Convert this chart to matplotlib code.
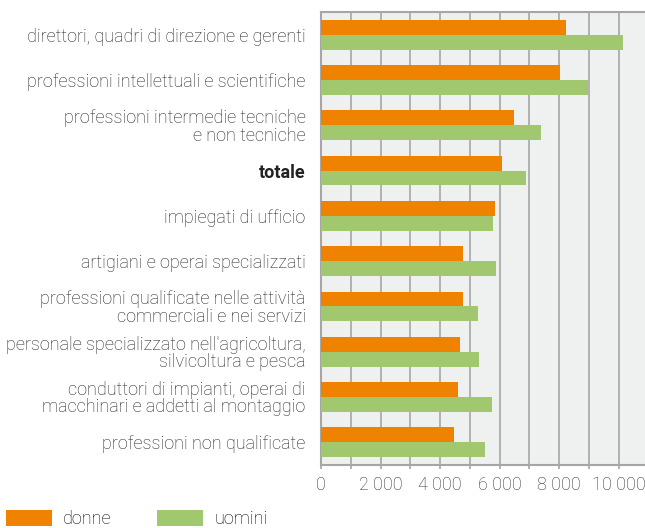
import matplotlib.pyplot as plt
from matplotlib.ticker import FuncFormatter, MultipleLocator
import numpy as np

plt.rcParams['font.family'] = ['Roboto', 'DejaVu Sans']

categorie = ['direttori, quadri di direzione e gerenti',
             'professioni intellettuali e scientifiche',
             'professioni intermedie tecniche\ne non tecniche',
             'totale',
             'impiegati di ufficio',
             'artigiani e operai specializzati',
             'professioni qualificate nelle attività\ncommerciali e nei servizi',
             "personale specializzato nell'agricoltura,\nsilvicoltura e pesca",
             'conduttori di impianti, operai di\nmacchinari e addetti al montaggio',
             'professioni non qualificate']
donne = [8220, 8020, 6470, 6080, 5845, 4770, 4770, 4670, 4600, 4470]
uomini = [10140, 8970, 7390, 6890, 5780, 5880, 5275, 5310, 5745, 5510]

col_donne = '#ef8200'
col_uomini = '#a2c86f'
grigio = '#a6a6a6'
fs = 13

fig = plt.figure(figsize=(6.45, 5.28), dpi=100)
ax = fig.add_axes([321/645, 1-465/528, 1-321/645, (465-12)/528])
ax.set_facecolor('#eff0f0')

y = np.arange(len(categorie))
h = 0.33
ax.barh(y - h/2, donne, height=h, color=col_donne, label='donne', zorder=3)
ax.barh(y + h/2, uomini, height=h, color=col_uomini, label='uomini', zorder=3)

ax.set_ylim(len(categorie) - 0.5, -0.5)
ax.set_xlim(0, 10880)
ax.xaxis.set_major_locator(MultipleLocator(2000))
ax.xaxis.set_minor_locator(MultipleLocator(1000))
ax.xaxis.set_major_formatter(FuncFormatter(lambda v, p: f'{int(v):,}'.replace(',', ' ')))
ax.grid(axis='x', which='both', color=grigio, lw=1.2, zorder=1)

ax.set_yticks(y)
ax.set_yticklabels(categorie, fontsize=fs, fontweight='light', color='#222222')
for t in ax.get_yticklabels():
    t.set_multialignment('right')
    t.set_linespacing(0.95)
    if t.get_text() == 'totale':
        t.set_fontweight('bold')
ax.tick_params(axis='y', length=0, pad=11)
ax.tick_params(axis='x', which='both', length=3, color=grigio, width=1.2,
               labelsize=fs, labelcolor='#333333', pad=5)
for lab in ax.get_xticklabels():
    lab.set_fontweight('light')

for s in ['left', 'bottom', 'top']:
    ax.spines[s].set_color(grigio)
    ax.spines[s].set_linewidth(1.5)
ax.spines['right'].set_visible(False)

fig.legend(loc='lower left', bbox_to_anchor=(6/645, 0.0), ncol=2, frameon=False,
           borderpad=0, borderaxespad=0, handlelength=2.55, handleheight=1.0,
           handletextpad=0.6, columnspacing=2.55,
           prop={'size': fs, 'weight': 'light'})

fig.savefig('out.png', dpi=100)
